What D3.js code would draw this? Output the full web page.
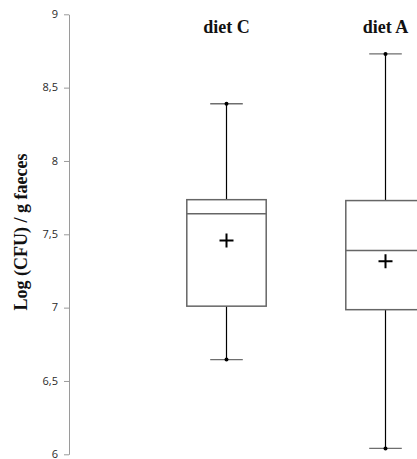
<!DOCTYPE html>
<html>
<head>
<meta charset="utf-8">
<script src="https://cdn.jsdelivr.net/npm/d3@7"></script>
<style>
  html, body { margin: 0; padding: 0; background: #fff; }
  svg { display: block; }
</style>
</head>
<body>
<svg id="vis" width="417" height="459"></svg>
<script>
// data
const diets = ["diet C", "diet A"];
const mins = [6.646, 6.04];
const q1s = [7.01, 6.986];
const medians = [7.64, 7.39];
const q3s = [7.736, 7.73];
const maxs = [8.39, 8.73];
const means = [7.457, 7.316];
const yTicks = [6, 6.5, 7, 7.5, 8, 8.5, 9];

const svg = d3.select("#vis");
const MARGINS = {top: 14.3, bottom: 4.7, left: 69};
const H = 459;

const y = d3.scaleLinear()
    .domain([6, 9])
    .range([H - MARGINS.bottom, MARGINS.top]);

const x = d3.scalePoint()
    .domain(diets)
    .range([226.5, 385.5]);

const boxHalf = 39.7;
const capHalf = 16.3;

const fmt = v => String(v).replace(".", ",");

// y axis
const yAxis = svg.append("g")
    .attr("transform", `translate(${MARGINS.left},0)`)
    .call(d3.axisLeft(y).tickValues(yTicks).tickFormat(fmt).tickSize(5).tickSizeOuter(0).tickPadding(6));
yAxis.select(".domain").attr("stroke", "#9a9a9a");
yAxis.selectAll(".tick line").attr("stroke", "#9a9a9a");
yAxis.selectAll(".tick text")
    .attr("fill", "#2a2a2a")
    .attr("dy", "0.3em")
    .style("font-family", "'Open Sans', sans-serif")
    .style("font-size", "11px");

svg.append("text")
    .attr("transform", `translate(27,232) rotate(-90)`)
    .attr("text-anchor", "middle")
    .style("font-family", "'Liberation Serif', 'Times New Roman', serif")
    .style("font-weight", "bold")
    .style("font-size", "18px")
    .attr("fill", "#111")
    .text("Log (CFU) / g faeces");

const data = diets.map((d, i) => ({
    name: d, min: mins[i], q1: q1s[i], med: medians[i], q3: q3s[i], max: maxs[i], mean: means[i]
}));

const g = svg.selectAll("g.box")
    .data(data)
    .enter().append("g")
    .attr("class", "box")
    .attr("transform", d => `translate(${x(d.name)},0)`);

// titles
g.append("text")
    .attr("y", 33)
    .attr("text-anchor", "middle")
    .style("font-family", "'Liberation Serif', 'Times New Roman', serif")
    .style("font-weight", "bold")
    .style("font-size", "18px")
    .attr("fill", "#111")
    .text(d => d.name);

// whiskers
g.append("line")
    .attr("x1", 0).attr("x2", 0)
    .attr("y1", d => y(d.max)).attr("y2", d => y(d.q3))
    .attr("stroke", "#000").attr("stroke-width", 1.2);
g.append("line")
    .attr("x1", 0).attr("x2", 0)
    .attr("y1", d => y(d.q1)).attr("y2", d => y(d.min))
    .attr("stroke", "#000").attr("stroke-width", 1.2);

// caps
["max", "min"].forEach(k => {
    g.append("line")
        .attr("x1", -capHalf).attr("x2", capHalf)
        .attr("y1", d => y(d[k])).attr("y2", d => y(d[k]))
        .attr("stroke", "#6e6e6e").attr("stroke-width", 1.3);
    g.append("circle")
        .attr("cx", 0).attr("cy", d => y(d[k]))
        .attr("r", 2)
        .attr("fill", "#000");
});

// box
g.append("rect")
    .attr("x", -boxHalf)
    .attr("width", boxHalf * 2)
    .attr("y", d => y(d.q3))
    .attr("height", d => y(d.q1) - y(d.q3))
    .attr("fill", "none")
    .attr("stroke", "#666")
    .attr("stroke-width", 1.5);

// median
g.append("line")
    .attr("x1", -boxHalf).attr("x2", boxHalf)
    .attr("y1", d => y(d.med)).attr("y2", d => y(d.med))
    .attr("stroke", "#666").attr("stroke-width", 1.5);

// mean marker
g.append("path")
    .attr("d", d => `M-7,${y(d.mean)}H7M0,${y(d.mean) - 7}V${y(d.mean) + 7}`)
    .attr("stroke", "#000")
    .attr("stroke-width", 2)
    .attr("fill", "none");
</script>
</body>
</html>
